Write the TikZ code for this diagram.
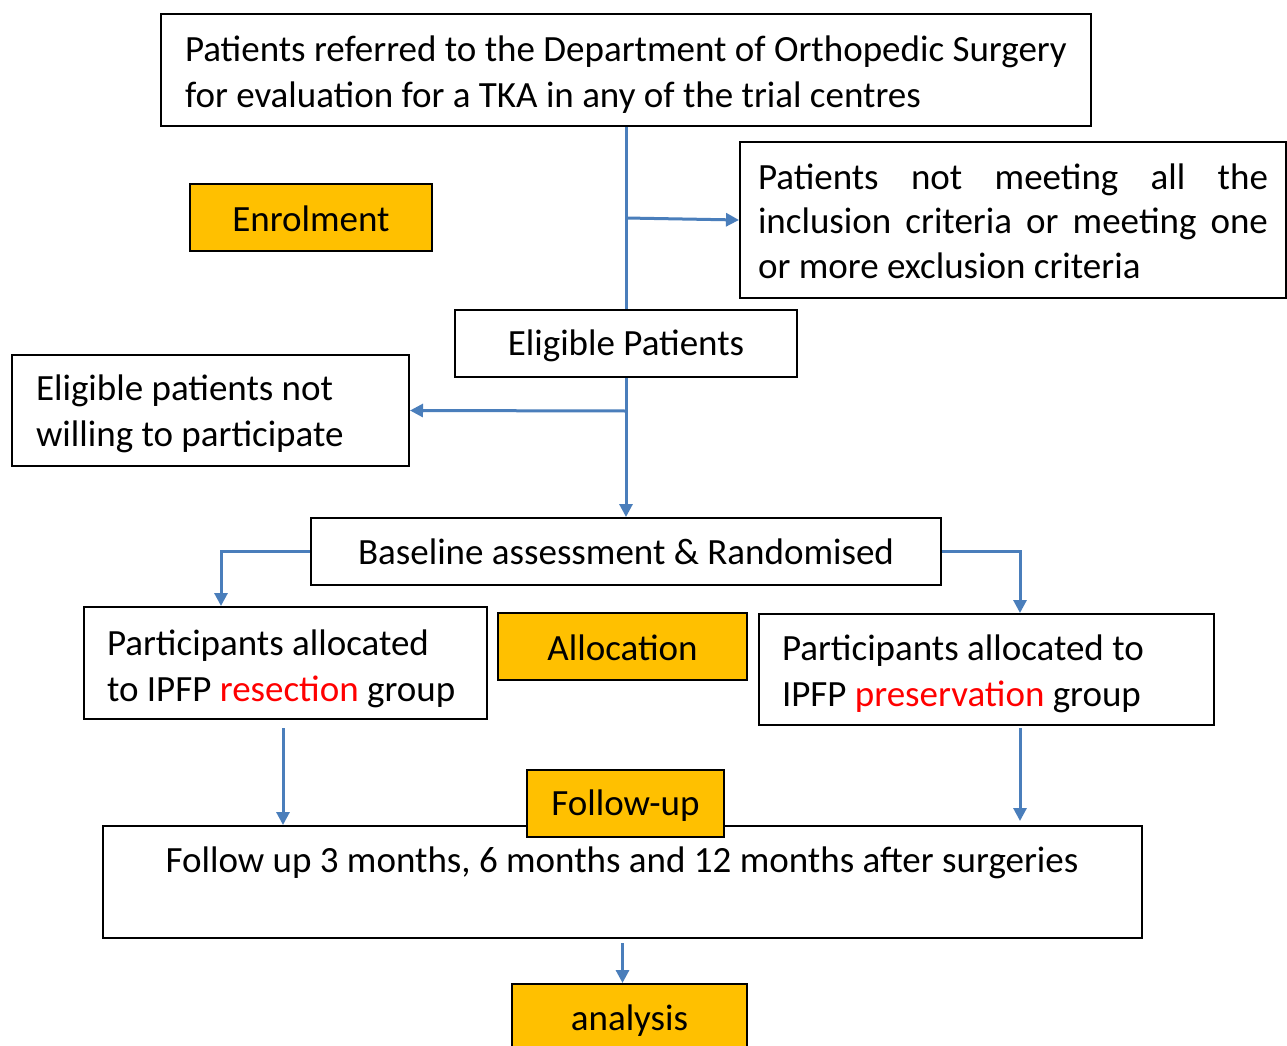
\documentclass[tikz,border=0pt]{standalone}
\usepackage{fontspec}
\setmainfont{Carlito}
\usetikzlibrary{arrows.meta}
\definecolor{lineblue}{HTML}{4A7EBB}
\definecolor{orangefill}{HTML}{FFC000}
\definecolor{redtext}{HTML}{FF0000}
\newcommand{\shiftdn}[2]{\raisebox{-#1}[\height][\depth]{#2}}
\tikzset{
  box/.style={draw=black, line width=2pt, inner sep=0pt, fill=white, font=\fontsize{37}{46}\selectfont},
  obox/.style={box, fill=orangefill},
  conn/.style={draw=lineblue, line width=3pt, -{Triangle[length=13pt,width=13pt]}},
  plainline/.style={draw=lineblue, line width=3pt},
}
\begin{document}
\begin{tikzpicture}[x=1pt,y=-1pt]
\useasboundingbox (0,0) rectangle (1287,1046);
\fill[white] (0,0) rectangle (1287,1046);

\node[box, minimum width=930pt, minimum height=112pt] (top) at (626,70)
  {\shiftdn{5pt}{\parbox{882pt}{Patients referred to the Department of Orthopedic Surgery\\for evaluation for a TKA in any of the trial centres}}};
\node[obox, minimum width=242pt, minimum height=67pt] (enrol) at (311,217.5) {\shiftdn{1pt}{Enrolment}};
\node[box, minimum width=546pt, minimum height=156pt, font=\fontsize{37}{44.5}\selectfont] (excl) at (1013,220)
  {\shiftdn{1pt}{\parbox{510pt}{\makebox[510pt][s]{Patients not meeting all the}\\\makebox[510pt][s]{inclusion criteria or meeting one}\\or more exclusion criteria}}};
\node[box, minimum width=342pt, minimum height=67pt] (elig) at (626,343.5) {\shiftdn{2pt}{Eligible Patients}};
\node[box, minimum width=397pt, minimum height=111pt] (nw) at (210.5,410.5)
  {\shiftdn{3pt}{\parbox{349pt}{Eligible patients not\\willing to participate}}};
\node[box, minimum width=630pt, minimum height=67pt] (base) at (626,551.5) {Baseline assessment \& Randomised};
\node[box, minimum width=403pt, minimum height=112pt] (res) at (285.5,663)
  {\shiftdn{6pt}{\parbox{357pt}{Participants allocated\\to IPFP \textcolor{redtext}{resection} group}}};
\node[obox, minimum width=249pt, minimum height=67pt] (alloc) at (622.5,646.5) {\shiftdn{1pt}{Allocation}};
\node[box, minimum width=455pt, minimum height=111pt] (pres) at (986.5,669.5)
  {\shiftdn{4pt}{\parbox{409pt}{Participants allocated to\\IPFP \textcolor{redtext}{preservation} group}}};
\node[box, minimum width=1039pt, minimum height=112pt] (fubox) at (622.5,882) {};
\node[inner sep=0pt, font=\fontsize{37}{46}\selectfont] (futext) at (622,863)
  {Follow up 3 months, 6 months and 12 months after surgeries};
\node[obox, minimum width=235pt, minimum height=72pt] (ana) at (629.5,1020) {\shiftdn{1pt}{analysis}};

\coordinate (j1) at (626,218);
\coordinate (j2) at (626,411);
\draw[plainline] (top.south) -- (elig.north);
\draw[conn] (j1) -- (excl.west);
\draw[conn] (elig.south) -- (base.north);
\draw[conn] (j2) -- (nw.east);
\draw[conn] (base.west) -| ([xshift=-64.5pt]res.north);
\draw[conn] (base.east) -| ([xshift=33.5pt]pres.north);
\draw[conn] ([xshift=-2.5pt,yshift=-8pt]res.south) -- ([xshift=-2.5pt]res.south |- fubox.north);
\draw[conn] ([xshift=33.5pt,yshift=-2pt]pres.south) -- ([xshift=33.5pt,yshift=4pt]pres.south |- fubox.north);
\draw[conn] ([yshift=-4pt]fubox.south) -- (fubox.south |- ana.north);

\node[obox, minimum width=197pt, minimum height=67pt] (fulab) at (625.5,803.5) {\shiftdn{2pt}{Follow-up}};
\end{tikzpicture}
\end{document}
